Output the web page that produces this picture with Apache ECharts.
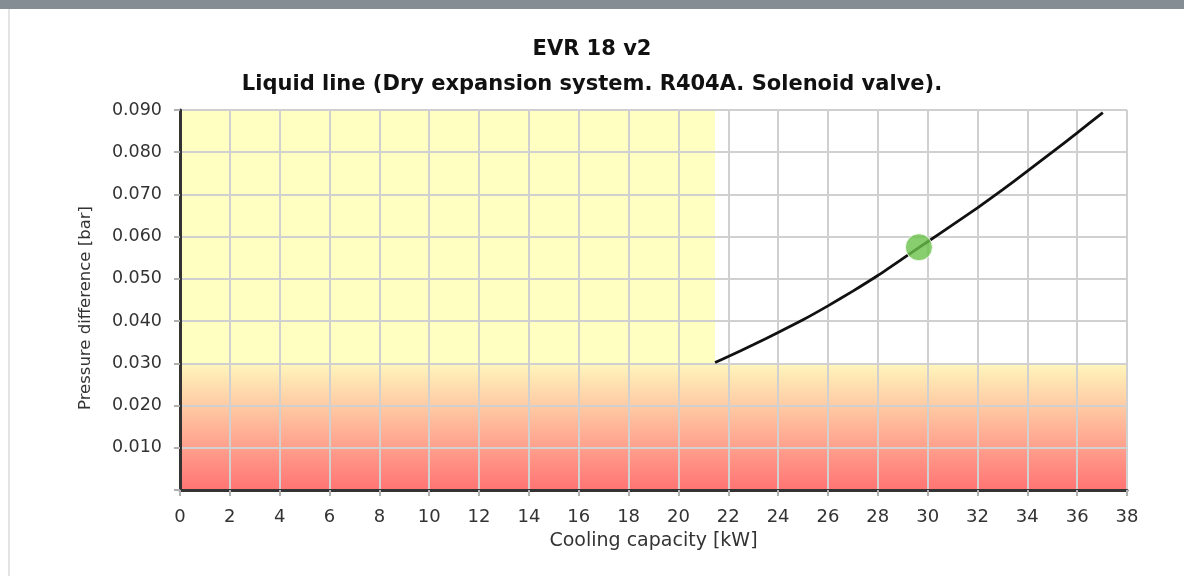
<!DOCTYPE html>
<html>
<head>
<meta charset="utf-8">
<script src="https://cdn.jsdelivr.net/npm/echarts@6/dist/echarts.min.js"></script>
<style>
html,body{margin:0;padding:0;background:#fff;}
#chart{width:1184px;height:576px;}
</style>
</head>
<body>
<div id="chart"></div>
<script>
// ---- data ----
const titleLines = ['EVR 18 v2', 'Liquid line (Dry expansion system. R404A. Solenoid valve).'];
const xAxisName = 'Cooling capacity [kW]';
const yAxisName = 'Pressure difference [bar]';
const xRange = [0, 38];
const yRange = [0, 0.09];
const curveX = [21.47, 22, 23, 24, 25, 26, 27, 28, 29, 30, 31, 32, 33, 34, 35, 36, 37.03];
const curveY = [0.0302, 0.0316, 0.0344, 0.0373, 0.0403, 0.0436, 0.0471, 0.0508, 0.0548, 0.0588, 0.0628, 0.0668, 0.0711, 0.0755, 0.0800, 0.0846, 0.0894];
const pointX = [29.65];
const pointY = [0.0575];
const yellowZoneX = [0, 21.47];
const yellowZoneY = [0.030, 0.090];
const redZoneX = [0, 38];
const redZoneY = [0, 0.030];

const chart = echarts.init(document.getElementById('chart'));
const FONT = 'DejaVu Sans';

const option = {
  backgroundColor: '#ffffff',
  animation: false,
  graphic: [
    { type: 'rect', left: 0, top: 0, shape: { width: 1184, height: 9 }, style: { fill: '#858d94' }, z: 100 },
    { type: 'rect', left: 8, top: 9, shape: { width: 2, height: 567 }, style: { fill: '#e2e4e6' }, z: 100 }
  ],
  title: [
    { text: titleLines[0], left: 'center', top: 34, textStyle: { fontFamily: FONT, fontSize: 21, fontWeight: 'bold', color: '#111' } },
    { text: titleLines[1], left: 'center', top: 69, textStyle: { fontFamily: FONT, fontSize: 21, fontWeight: 'bold', color: '#111' } }
  ],
  grid: { left: 180, right: 57, top: 110, bottom: 86, containLabel: false },
  xAxis: {
    type: 'value', min: xRange[0], max: xRange[1], interval: 2, z: 3,
    name: xAxisName, nameLocation: 'middle', nameGap: 42,
    nameTextStyle: { fontFamily: FONT, fontSize: 19, color: '#333' },
    axisLine: { show: true, onZero: false, lineStyle: { color: '#333', width: 3 } },
    axisTick: { show: true, length: 6, lineStyle: { color: '#b0b0b0', width: 2 } },
    axisLabel: { fontFamily: FONT, fontSize: 18, color: '#333', margin: 18 },
    splitLine: { show: true, lineStyle: { color: '#d0d0d0', width: 2 } }
  },
  yAxis: {
    type: 'value', min: yRange[0], max: yRange[1], interval: 0.01, z: 3,
    name: yAxisName, nameLocation: 'middle', nameGap: 86,
    nameTextStyle: { fontFamily: FONT, fontSize: 16.5, color: '#333', padding: [0, 16, 0, 0] },
    axisLine: { show: true, onZero: false, lineStyle: { color: '#333', width: 3 } },
    axisTick: { show: true, length: 6, lineStyle: { color: '#b0b0b0', width: 2 } },
    axisLabel: { fontFamily: FONT, fontSize: 17.5, color: '#333', margin: 18,
      formatter: v => (Math.abs(v) < 1e-9 ? '' : v.toFixed(3)) },
    splitLine: { show: true, lineStyle: { color: '#d0d0d0', width: 2 } }
  },
  series: [
    {
      type: 'line', data: [], silent: true, z: 1,
      markArea: {
        silent: true,
        data: [
          [ { coord: [yellowZoneX[0], yellowZoneY[0]], itemStyle: { color: '#ffffc2' } },
            { coord: [yellowZoneX[1], yellowZoneY[1]] } ],
          [ { coord: [redZoneX[0], redZoneY[0]], itemStyle: { color: new echarts.graphic.LinearGradient(0, 0, 0, 1, [
                { offset: 0, color: '#fff6bc' }, { offset: 1, color: '#ff7474' } ]) } },
            { coord: [redZoneX[1], redZoneY[1]] } ]
        ]
      }
    },
    {
      type: 'line', data: curveX.map((x, i) => [x, curveY[i]]),
      showSymbol: false, smooth: 0.15,
      lineStyle: { color: '#111', width: 2.8 }, z: 5
    },
    {
      type: 'scatter', data: pointX.map((x, i) => [x, pointY[i]]),
      symbolSize: 27,
      itemStyle: { color: '#6cc24a', borderColor: '#ffffff', borderWidth: 1 }, z: 6
    }
  ]
};
chart.setOption(option);
</script>
</body>
</html>
